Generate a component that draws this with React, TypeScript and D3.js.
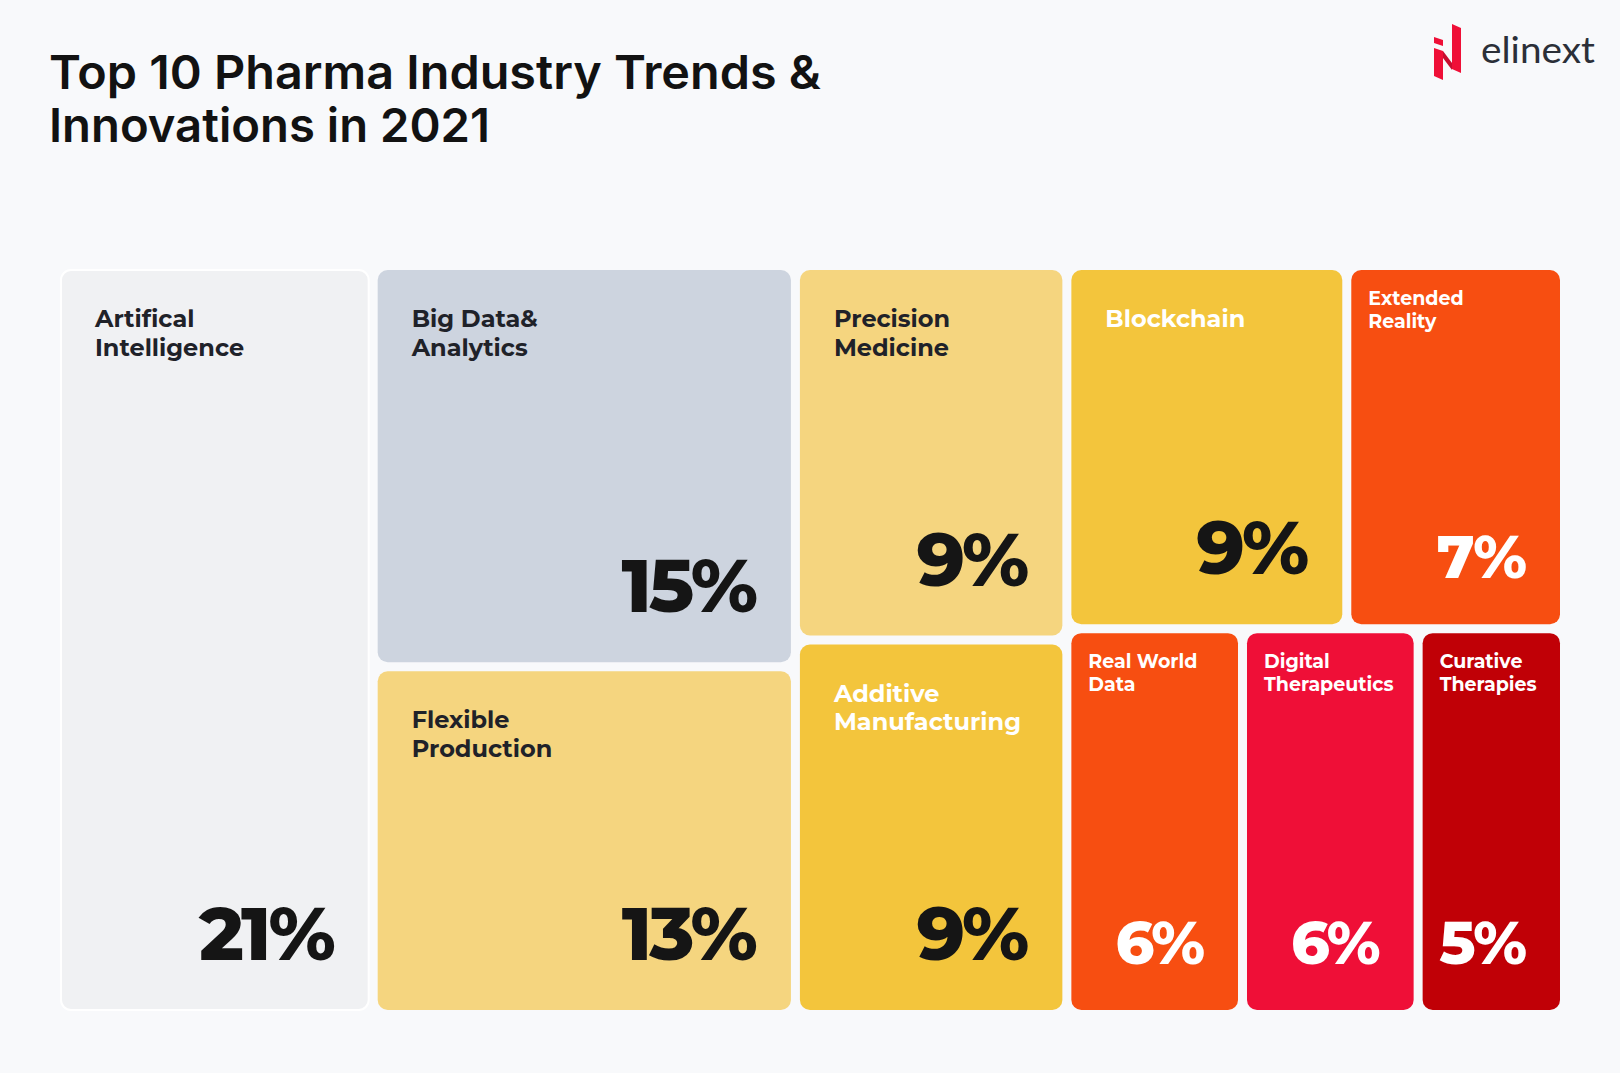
import React, { useEffect, useRef } from 'react';
import * as d3 from 'd3';

// trend names (line breaks as on the poster) and their shares in %
const trends = [
  'Artifical\nIntelligence',
  'Big Data&\nAnalytics',
  'Flexible\nProduction',
  'Precision\nMedicine',
  'Additive\nManufacturing',
  'Blockchain',
  'Extended\nReality',
  'Real World\nData',
  'Digital\nTherapeutics',
  'Curative\nTherapies',
];
const shares = [21, 15, 13, 9, 9, 9, 7, 6, 6, 5];
// how the tiles are grouped into columns (and rows inside the last column)
const columns = [[0], [1, 2], [3, 4], [[5, 6], [7, 8, 9]]];

const titleLines = ['Top 10 Pharma Industry Trends &', 'Innovations in 2021'];

// styles
const fills = ['#f0f1f3', '#cdd4df', '#f5d57f', '#f5d57f', '#f3c53c', '#f3c53c', '#f74e11', '#f74e11', '#ef0f37', '#c00006'];
const labelInk = ['#1f2229', '#1f2229', '#1f2229', '#1f2229', '#ffffff', '#ffffff', '#ffffff', '#ffffff', '#ffffff', '#ffffff'];
const valueInk = ['#151515', '#151515', '#151515', '#151515', '#151515', '#151515', '#ffffff', '#ffffff', '#ffffff', '#ffffff'];

const W = 1620;
const H = 1073;
const BG = '#f8f9fb';

const App = () => {
  const ref = useRef<SVGSVGElement | null>(null);

  useEffect(() => {
    const svg = d3.select(ref.current);
    svg.selectAll('*').remove();

    svg.append('rect').attr('width', W).attr('height', H).attr('fill', BG);

    // title
    const title = svg.append('g').attr('font-family', 'Inter, sans-serif').attr('font-weight', 600).attr('fill', '#121212');
    title.append('text').attr('x', 49).attr('y', 89).attr('font-size', 47)
      .attr('textLength', 772).attr('lengthAdjust', 'spacingAndGlyphs').text(titleLines[0]);
    title.append('text').attr('x', 49).attr('y', 142).attr('font-size', 47)
      .attr('textLength', 441).attr('lengthAdjust', 'spacingAndGlyphs').text(titleLines[1]);

    // logo
    const logo = svg.append('g');
    logo.append('polygon').attr('points', '1434,37 1443,40 1443,46 1434,43').attr('fill', '#ef0f37');
    logo.append('polygon').attr('points', '1434,48 1443,51 1443,80 1434,76').attr('fill', '#ef0f37');
    logo.append('polygon').attr('points', '1443,51 1452,63 1452,70 1443,58').attr('fill', '#c70d2f');
    logo.append('polygon').attr('points', '1452,24 1461,28 1461,73 1452,69').attr('fill', '#ef0f37');
    logo.append('text').attr('x', 1481).attr('y', 63).attr('font-family', 'Lato, sans-serif')
      .attr('font-size', 36).attr('font-weight', 400).attr('fill', '#2b2f38')
      .attr('textLength', 114).attr('lengthAdjust', 'spacingAndGlyphs').text('elinext');

    // hierarchy from the column grouping
    const build = (g: any): any =>
      Array.isArray(g) ? { children: g.map(build) } : { idx: g, value: shares[g] };
    const root = d3.hierarchy(build(columns))
      .sum((d: any) => d.value || 0);

    d3.treemap()
      .tile(d3.treemapSliceDice)
      .size([1499, 740])
      .paddingInner(9)
      .round(false)(root as any);

    const plot = svg.append('g').attr('transform', 'translate(61,270)');
    const leaves = plot.selectAll('g.tile')
      .data(root.leaves())
      .enter()
      .append('g')
      .attr('class', 'tile')
      .attr('transform', (d: any) => `translate(${d.x0},${d.y0})`);

    leaves.append('rect')
      .attr('width', (d: any) => d.x1 - d.x0)
      .attr('height', (d: any) => d.y1 - d.y0)
      .attr('rx', 10)
      .attr('fill', (d: any) => fills[d.data.idx])
      .attr('stroke', (d: any) => (d.data.idx === 0 ? '#ffffff' : 'none'))
      .attr('stroke-width', 2);

    leaves.each(function (d: any) {
      const g = d3.select(this);
      const w = d.x1 - d.x0;
      const h = d.y1 - d.y0;
      const small = w < 230;
      const lines = trends[d.data.idx].split('\n');
      const label = g.append('text')
        .attr('font-family', 'Montserrat, Inter, sans-serif')
        .attr('font-weight', 700)
        .attr('font-size', small ? 19 : 24)
        .attr('fill', labelInk[d.data.idx]);
      lines.forEach((ln, i) => {
        label.append('tspan')
          .attr('x', small ? 17 : 34)
          .attr('y', (small ? 35 : 57) + i * (small ? 22.5 : 28.5))
          .text(ln);
      });
      g.append('text')
        .attr('x', w - (small ? 35 : 36))
        .attr('y', h - (small ? 46 : 50))
        .attr('text-anchor', 'end')
        .attr('font-family', 'Montserrat, Inter, sans-serif')
        .attr('font-weight', 800)
        .attr('font-size', small ? 60 : 75)
        .attr('letter-spacing', small ? -2 : -3)
        .attr('fill', valueInk[d.data.idx])
        .text(shares[d.data.idx] + '%');
    });
  }, []);

  return (
    <svg
      ref={ref}
      width={W}
      height={H}
      style={{ position: 'absolute', left: 0, top: 0, display: 'block' }}
    />
  );
};

export default App;
